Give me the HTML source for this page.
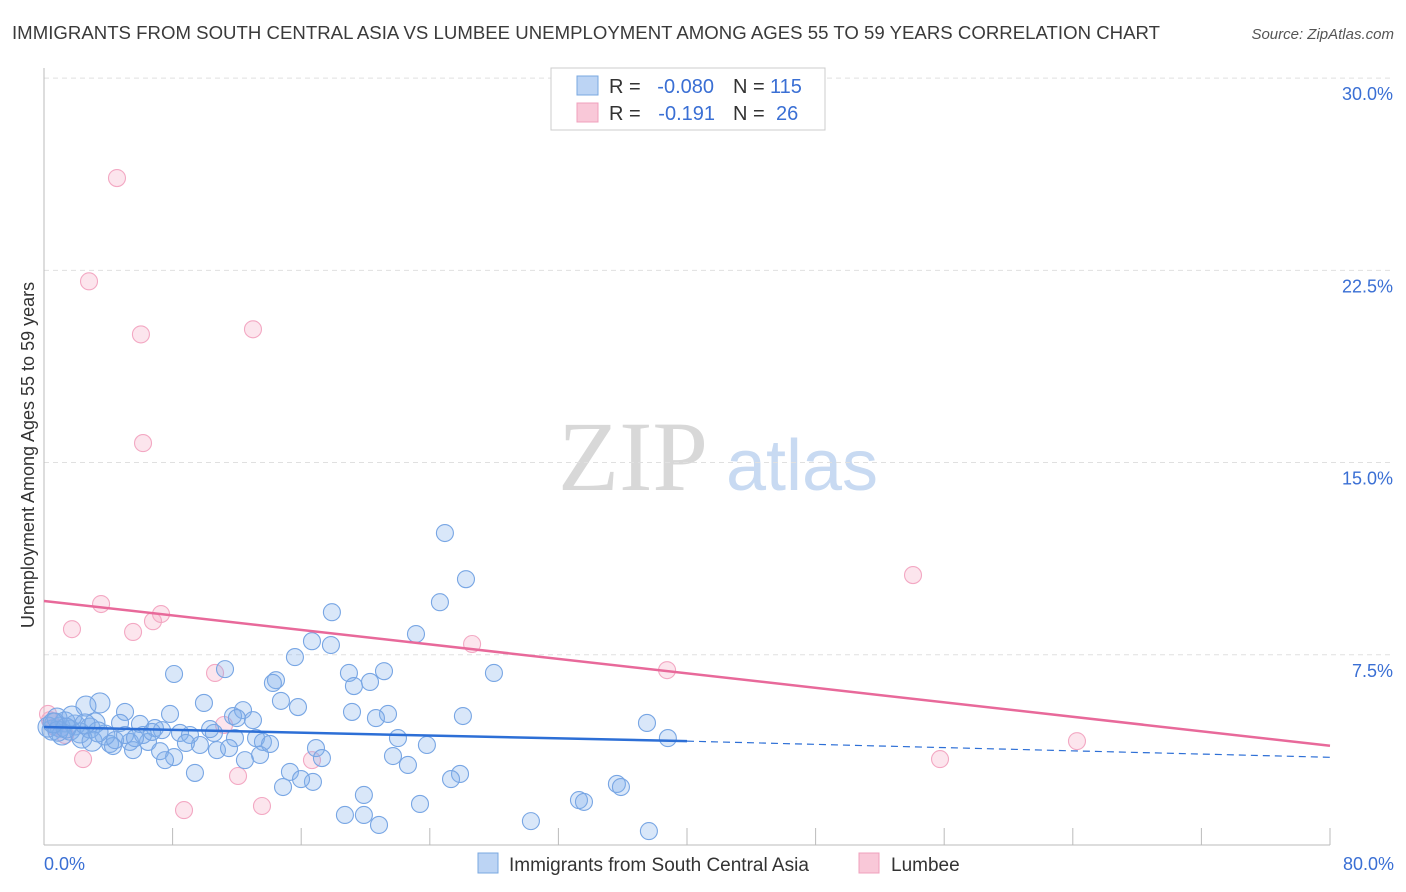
<!DOCTYPE html>
<html><head><meta charset="utf-8"><style>
body{margin:0;background:#fff;font-family:"Liberation Sans",sans-serif}
svg{display:block}
</style></head><body>
<svg width="1406" height="892" xmlns="http://www.w3.org/2000/svg">
<text x="12" y="39" font-size="18.6" fill="#3a3a3a" textLength="1148">IMMIGRANTS FROM SOUTH CENTRAL ASIA VS LUMBEE UNEMPLOYMENT AMONG AGES 55 TO 59 YEARS CORRELATION CHART</text>
<text x="1394" y="39" font-size="15" fill="#555" font-style="italic" text-anchor="end">Source: ZipAtlas.com</text>
<g>
<text x="633" y="490" font-size="100" font-family="Liberation Serif,serif" fill="#d8d8d8" text-anchor="middle">ZIP</text>
<text x="802" y="490" font-size="72" fill="#c8daf2" text-anchor="middle">atlas</text>
</g>
<g id="grid"></g>
<g id="axes"></g>
<g id="marks"></g>
<g>
<rect x="551" y="68" width="274" height="62" fill="#fff" stroke="#ccc"/>
<rect x="577" y="76" width="21" height="19" fill="#bcd4f4" stroke="#7aa8e0"/>
<rect x="577" y="103" width="21" height="19" fill="#f9c8d8" stroke="#f0a0bd"/>
<g font-size="20" fill="#333">
<text x="609" y="93">R =</text><text x="714" y="93" fill="#3a6fd4" text-anchor="end">-0.080</text>
<text x="733" y="93">N =</text><text x="770" y="93" fill="#3a6fd4">115</text></g>
<g font-size="20" fill="#333">
<text x="609" y="120">R =</text><text x="715" y="120" fill="#3a6fd4" text-anchor="end">-0.191</text>
<text x="733" y="120">N =</text><text x="776" y="120" fill="#3a6fd4">26</text></g>
</g>
<g>
<rect x="478" y="853" width="20" height="20" fill="#bcd4f4" stroke="#7aa8e0"/>
<text x="509" y="871" font-size="19" fill="#333">Immigrants from South Central Asia</text>
<rect x="859" y="853" width="20" height="20" fill="#f9c8d8" stroke="#f0a0bd"/>
<text x="891" y="871" font-size="19" fill="#333">Lumbee</text>
</g>
<text transform="translate(34,455) rotate(-90)" font-size="18" fill="#333" text-anchor="middle">Unemployment Among Ages 55 to 59 years</text>
</svg>
<script>
const yTicks=[7.5,15,22.5,30];
const yTickLabels=["7.5%","15.0%","22.5%","30.0%"];
const xTickVals=[0,8,16,24,32,40,48,56,64,72,80];
const blueX=[24.94,26.25,24.63,17.91,23.14,16.67,17.85,15.61,11.26,8.09,21.15,27.99,18.97,20.28,14.43,19.28,14.24,14.74,9.95,15.80,3.48,2.61,5.04,12.38,19.16,21.40,26.06,11.76,7.84,20.65,13.0,12.0,4.73,5.97,6.90,7.34,8.46,9.08,10.57,11.88,13.19,13.62,14.06,22.02,23.82,16.92,9.70,10.76,11.51,8.83,6.47,5.35,4.11,7.22,8.09,7.53,5.54,4.29,17.29,13.44,12.50,21.71,22.64,9.39,15.30,16.73,15.99,14.87,25.88,25.32,35.64,35.89,33.28,33.59,19.90,23.39,18.72,19.90,20.84,30.29,37.63,37.51,38.81,0.68,1.0,0.5,1.31,1.62,0.25,1.93,2.24,2.86,3.17,1.12,0.81,1.74,2.36,3.79,4.42,2.99,0.87,1.37,0.56,6.16,6.72,10.33,5.04,5.66,3.36,2.55];
const blueY=[12.25,10.45,9.55,9.16,8.31,8.03,7.88,7.41,6.94,6.75,6.86,6.79,6.79,6.44,6.51,6.28,6.40,5.70,5.62,5.46,5.62,5.50,5.27,5.34,5.27,5.19,5.11,5.11,5.19,5.03,4.95,5.03,4.84,4.80,4.64,4.56,4.45,4.37,4.45,4.25,4.25,4.10,4.02,4.25,3.98,3.86,3.98,3.78,3.86,4.06,4.10,4.10,4.02,3.74,3.51,3.39,3.78,3.94,3.47,3.59,3.39,3.55,3.20,2.89,2.93,2.54,2.65,2.34,2.85,2.65,2.46,2.34,1.83,1.76,2.03,1.68,1.25,1.25,0.86,1.01,0.62,4.84,4.25,4.84,4.68,4.56,4.88,4.56,4.68,4.76,4.45,4.64,4.84,4.37,5.03,5.11,4.25,4.37,4.17,4.13,4.52,4.64,4.84,4.37,4.49,4.60,4.37,4.25,4.49,4.80];
const pinkX=[4.54,2.80,6.03,13.0,6.16,3.55,1.74,5.54,6.78,7.28,54.06,26.63,38.76,10.64,11.2,2.43,12.07,13.56,8.71,64.26,55.74,16.67,0.25,0.68,1.31,0.37];
const pinkY=[26.1,22.07,20.0,20.2,15.76,9.48,8.50,8.39,8.81,9.09,10.61,7.92,6.90,6.79,4.76,3.43,2.77,1.60,1.44,4.13,3.43,3.39,5.19,4.68,4.37,4.95];
const blueTrend=[4.68,4.13,3.50]; // at x=0, 40, 80
const pinkTrend=[9.6,3.95]; // at x=0, 80
const X=v=>44+v/80*1286, Y=v=>847-v*25.63;
const NS="http://www.w3.org/2000/svg";
function mk(p,tag,a){const e=document.createElementNS(NS,tag);for(const k in a)e.setAttribute(k,a[k]);p.appendChild(e);return e;}
const grid=document.getElementById('grid'),axes=document.getElementById('axes'),marks=document.getElementById('marks');
yTicks.forEach((t,i)=>{
 const l=mk(grid,'line',{x1:44,x2:1394,y1:Y(t),y2:Y(t),stroke:'#e0e0e0','stroke-dasharray':'5,4'});
 
 
 const tx=mk(axes,'text',{x:1393,y:Y(t)+22,'font-size':18,fill:'#3a6fd4','text-anchor':'end'});tx.textContent=yTickLabels[i];
 
 
});
const ax=mk(axes,'line',{x1:44,x2:44,y1:68,y2:845,stroke:'#bbb'});


const bx=mk(axes,'line',{x1:44,x2:1330,y1:845,y2:845,stroke:'#bbb'});


xTickVals.forEach(t=>{const l=mk(axes,'line',{x1:X(t),x2:X(t),y1:828,y2:845,stroke:'#bbb'});
 
 });
[[0,"0.0%",'start',44],[80,"80.0%",'end',1394]].forEach(a=>{const t=mk(axes,'text',{x:a[3],y:870,'font-size':18,fill:'#3a6fd4','text-anchor':a[2]});t.textContent=a[1];
 
 });
pinkX.forEach((v,i)=>{const c=mk(marks,'circle',{cx:X(v),cy:Y(pinkY[i]),r:8.5,fill:'rgba(246,170,196,0.3)',stroke:'#f3a8c3','stroke-width':1.1});
 
 });
blueX.forEach((v,i)=>{const c=mk(marks,'circle',{cx:X(v),cy:Y(blueY[i]),r:v<4?10:8.5,fill:'rgba(130,175,235,0.3)',stroke:'#78a6e4','stroke-width':1.1});
 
 });
const bl=mk(marks,'line',{x1:X(0),y1:Y(blueTrend[0]),x2:X(40),y2:Y(blueTrend[1]),stroke:'#2d6fd6','stroke-width':2.5});


const bd=mk(marks,'line',{x1:X(40),y1:Y(blueTrend[1]),x2:X(80),y2:Y(blueTrend[2]),stroke:'#2d6fd6','stroke-width':1.2,'stroke-dasharray':'7,5'});


const pl=mk(marks,'line',{x1:X(0),y1:Y(pinkTrend[0]),x2:X(80),y2:Y(pinkTrend[1]),stroke:'#e8699a','stroke-width':2.5});


</script>
</body></html>
